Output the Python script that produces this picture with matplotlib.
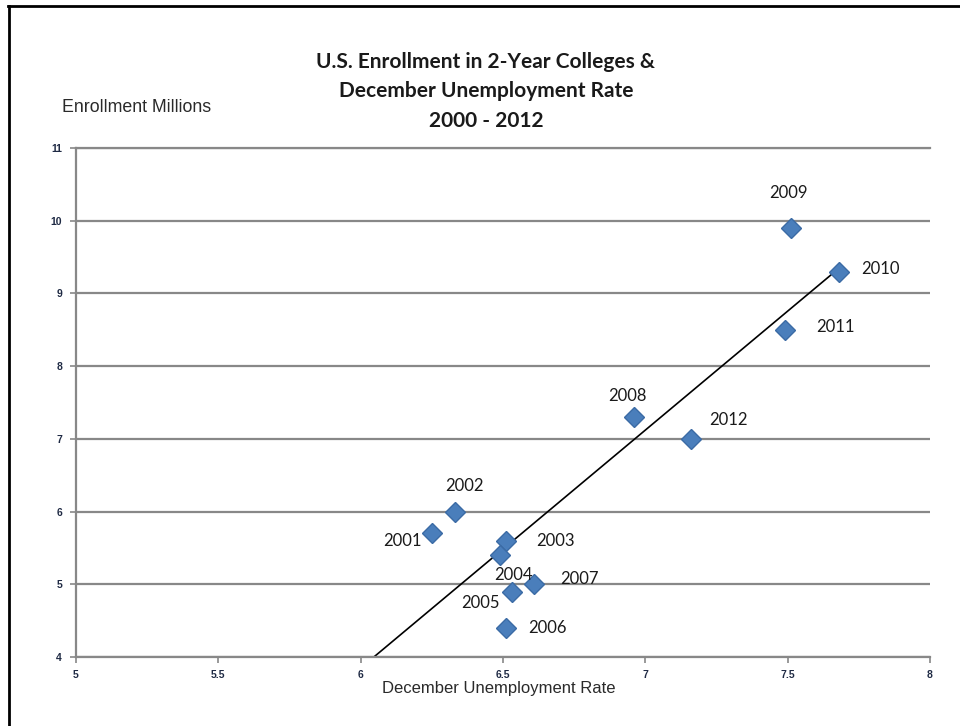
import numpy as np
import matplotlib.pyplot as plt
from matplotlib.lines import Line2D

years = ['2001', '2002', '2003', '2004', '2005', '2006',
         '2007', '2008', '2009', '2010', '2011', '2012']
unemployment = [6.25, 6.33, 6.51, 6.49, 6.53, 6.51, 6.61, 6.96, 7.51, 7.68, 7.49, 7.16]
enrollment = [5.7, 6.0, 5.6, 5.4, 4.9, 4.4, 5.0, 7.3, 9.9, 9.3, 8.5, 7.0]

x_ticks = [5, 5.5, 6, 6.5, 7, 7.5, 8]
x_tick_labels = ['5', '5.5', '6', '6.5', '7', '7.5', '8']
y_ticks = [4, 5, 6, 7, 8, 9, 10, 11]

# label offsets in pixels (dx, dy), y up
label_offsets = [(-29, -8), (10, 26), (50, 0), (13, -20), (-31, -11), (42, 0),
                 (45, 5), (-7, 21), (-2, 35), (42, 3), (51, 3), (38, 19)]

label_font = ['Lato', 'DejaVu Sans']
axis_font = ['Liberation Sans', 'DejaVu Sans']
grey = '#888888'

fig = plt.figure(figsize=(9.6, 7.26), dpi=100)
ax = fig.add_axes([76 / 960, 1 - 657 / 726, (930 - 76) / 960, (657 - 148) / 726])

ax.set_xlim(5, 8)
ax.set_ylim(4, 11)
ax.set_xticks(x_ticks)
ax.set_xticklabels(x_tick_labels)
ax.set_yticks(y_ticks)

ax.spines['right'].set_visible(False)
for s in ['left', 'bottom', 'top']:
    ax.spines[s].set_color(grey)
    ax.spines[s].set_linewidth(1.6)

ax.yaxis.grid(True, color=grey, linewidth=1.6)
ax.set_axisbelow(True)
ax.tick_params(axis='both', colors=grey, length=4, width=1.2, direction='out')
ax.tick_params(axis='y', pad=6)
ax.tick_params(axis='x', pad=5)
for lab in ax.get_xticklabels() + ax.get_yticklabels():
    lab.set_color('#1f2a44')
    lab.set_fontsize(7.5)
    lab.set_fontweight('bold')
    lab.set_family(axis_font)

# linear trend line
slope, intercept = np.polyfit(unemployment, enrollment, 1)
tx = np.array([5, max(unemployment)])
ax.plot(tx, slope * tx + intercept, color='black', linewidth=1.2, zorder=2)

ax.plot(unemployment, enrollment, 'D', color='#4a7ebb', markeredgecolor='#3b6ba5',
        markersize=10.5, zorder=3)

for xv, yv, yr, (dx, dy) in zip(unemployment, enrollment, years, label_offsets):
    ax.annotate(yr, (xv, yv), xytext=(dx, dy), textcoords='offset pixels',
                ha='center', va='center', fontsize=12, family=label_font,
                color='#1a1a1a', zorder=4)

title_lines = ['U.S. Enrollment in 2-Year Colleges &', 'December Unemployment Rate', '2000 - 2012']
for line, ypix in zip(title_lines, [62, 91, 121]):
    fig.text(486 / 960, 1 - ypix / 726, line, ha='center', va='center',
             fontsize=15, fontweight='bold', family=label_font, color='#1a1a1a')

fig.text(62 / 960, 1 - 108 / 726, 'Enrollment Millions', ha='left', va='center',
         fontsize=12.8, family=axis_font, color='#2a2a2a')
fig.text(499 / 960, 1 - 688 / 726, 'December Unemployment Rate', ha='center',
         va='center', fontsize=12, family=axis_font, color='#2a2a2a')

# screenshot border, left and top
fig.add_artist(Line2D([9 / 960, 9 / 960], [0, 1 - 6 / 726], transform=fig.transFigure,
                      color='black', linewidth=2))
fig.add_artist(Line2D([8 / 960, 1], [1 - 6 / 726, 1 - 6 / 726], transform=fig.transFigure,
                      color='black', linewidth=2))

fig.savefig('out.png', dpi=100)
